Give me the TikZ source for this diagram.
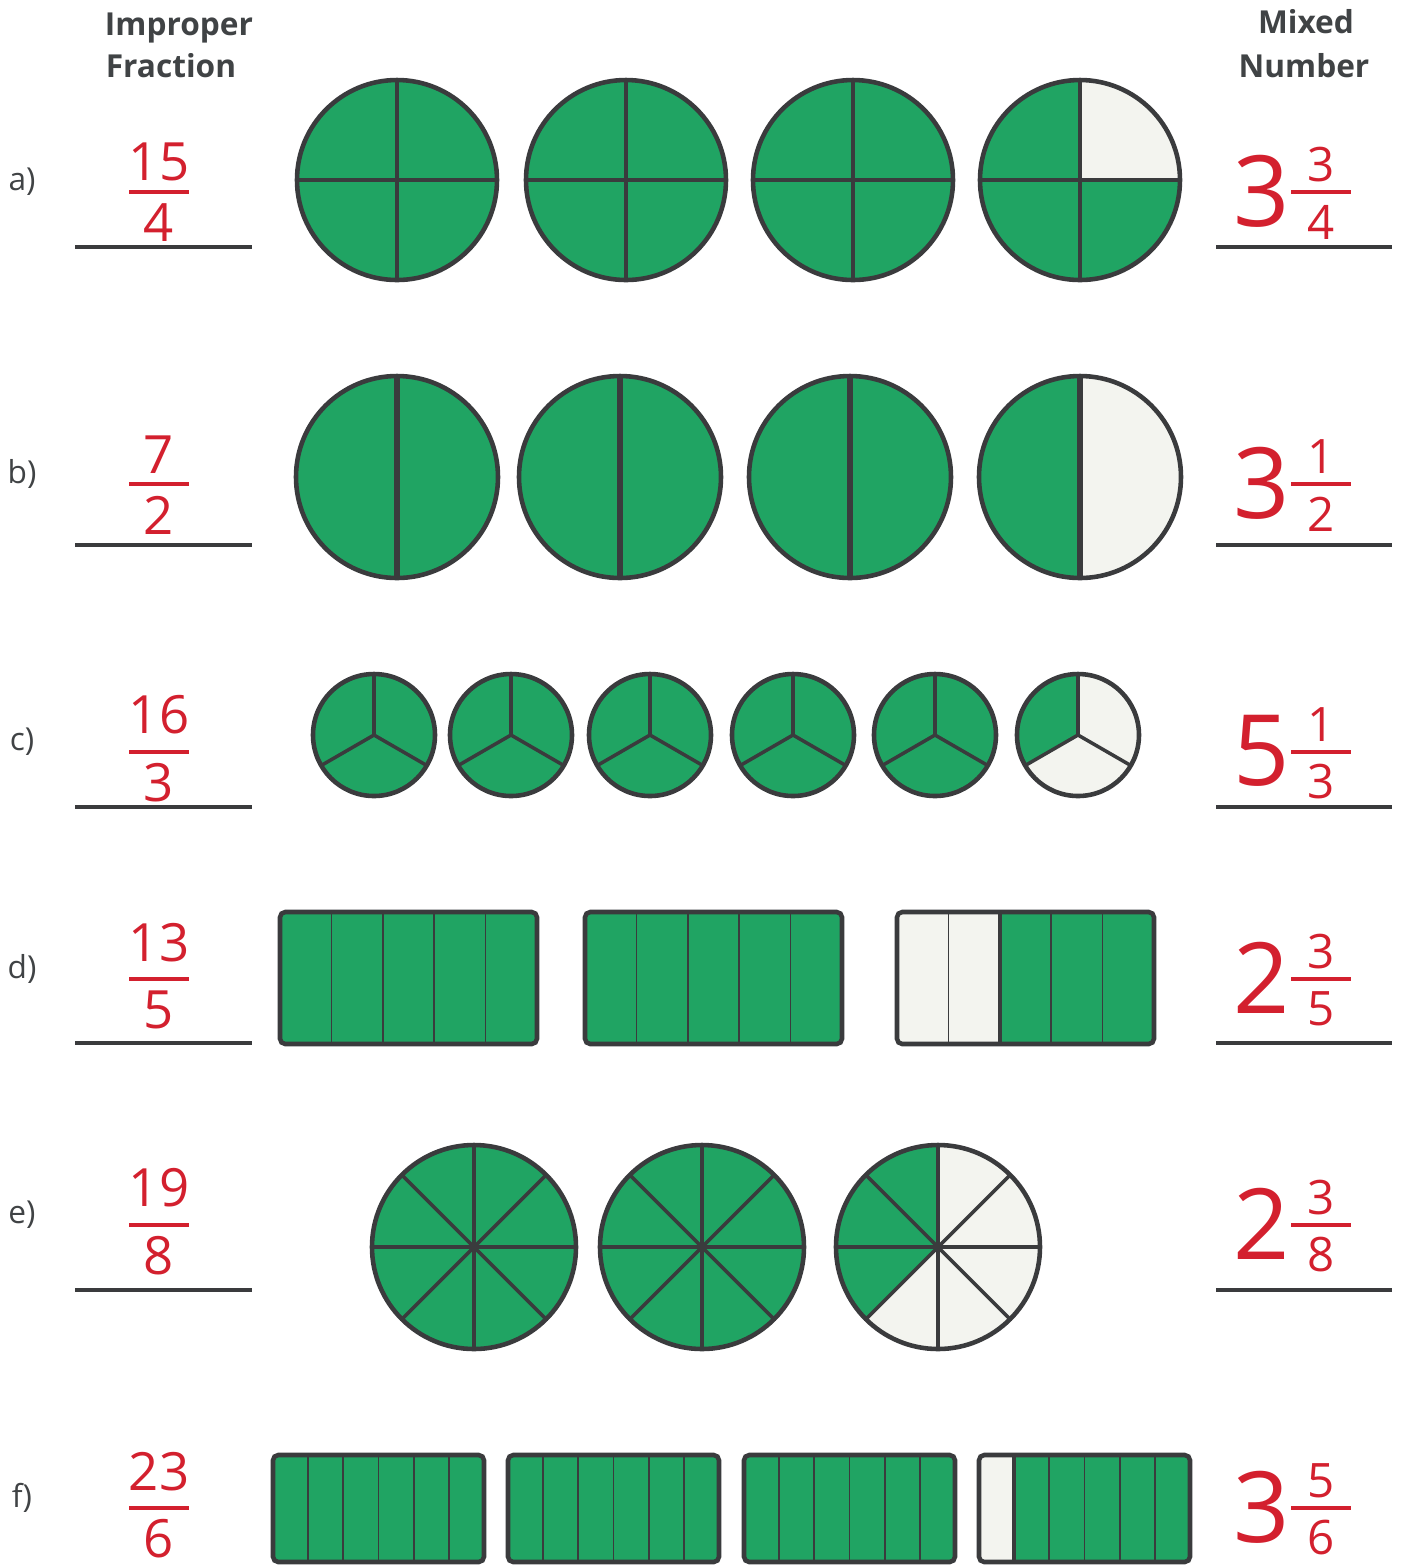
\documentclass[tikz,border=0pt]{standalone}
\usepackage{fontspec}
\setmainfont{Open Sans}
\usetikzlibrary{calc}

\definecolor{piegreen}{HTML}{20A463}
\definecolor{emptyfill}{HTML}{F3F4EF}
\definecolor{edgegray}{HTML}{3A3B3D}
\definecolor{answerred}{HTML}{D3202E}
\definecolor{headgray}{HTML}{404345}

\tikzset{
  rim/.style={draw=edgegray, line width=1.3pt},
  cut/.style={draw=edgegray, line width=1pt},
  slit/.style={draw=edgegray, line width=0.5pt},
  heading/.style={text=headgray, inner sep=0pt, font=\bfseries\fontsize{9}{11}\selectfont},
  rowlabel/.style={text=headgray, inner sep=0pt, font=\fontsize{9}{10}\selectfont},
  leftfig/.style={text=answerred, inner sep=0pt, font=\fontsize{15}{15}\selectfont},
  wholefig/.style={text=answerred, inner sep=0pt, font=\fontsize{28}{28}\selectfont},
  smallfig/.style={text=answerred, inner sep=0pt, font=\fontsize{13.5}{13.5}\selectfont},
  fracbar/.style={draw=answerred, line width=0.9pt},
  answerline/.style={draw=edgegray, line width=0.9pt}
}

% circle cut into #5 parts, #6 of them green (counter-clockwise from the top)
\newcommand{\fracpie}[6]{%
  \coordinate (#1) at (#2,#3);
  \fill[emptyfill] (#1) circle (#4);
  \fill[piegreen] (#1) -- ++(90:#4) arc[start angle=90, delta angle=360*#6/#5, radius=#4] -- cycle;
  \foreach \k in {1,...,#5} \draw[cut] (#1) -- ++({90+360*\k/#5}:#4);
  \draw[rim] (#1) circle (#4);
}

% bar cut into #6 strips, the right #7 of them green
\newcommand{\fracbox}[7]{%
  \coordinate (#1-a) at (#2,#3);
  \coordinate (#1-b) at (#4,#5);
  \pgfmathsetmacro\splitx{#2+(#4-#2)*(#6-#7)/#6}
  \pgfmathtruncatemacro\lastcut{#6-1}
  \fill[emptyfill] (#1-a) rectangle (#1-b);
  \fill[piegreen] (\splitx,#3) rectangle (#1-b);
  \foreach \k in {1,...,\lastcut} \draw[slit] ({#2+(#4-#2)*\k/#6},#3) -- ({#2+(#4-#2)*\k/#6},#5);
  \ifnum#7<#6 \draw[rim] (\splitx,#3) -- (\splitx,#5); \fi
  \draw[rim, rounded corners=1.5pt] (#1-a) rectangle (#1-b);
}

\begin{document}
\begin{tikzpicture}[x=0.01cm, y=0.01cm]
\useasboundingbox (0,0) rectangle (1402,-1565);
\clip (0,0) rectangle (1402,-1565);

% column headings
\node[heading, anchor=base] (head-improper) at (179,-35) {Improper};
\node[heading, anchor=base] (head-fraction) at (171,-77) {Fraction};
\node[heading, anchor=base] (head-mixed) at (1306,-33) {Mixed};
\node[heading, anchor=base] (head-number) at (1304,-77) {Number};

% row labels, improper fractions and mixed numbers
\foreach \tag/\ybar/\dy/\numer/\denom/\whole/\mnumer/\mdenom/\yline in {
    a/192/30/15/4/3/3/4/247, b/484/29/7/2/3/1/2/545, c/752/37/16/3/5/1/3/807,
    d/979/36/13/5/2/3/5/1043, e/1225/37/19/8/2/3/8/1290, f/1508/36/23/6/3/5/6/0}{
  \node[rowlabel] (lab-\tag) at (22,-\ybar+10) {\tag)};
  \node[leftfig] (num-\tag) at (159,-\ybar+\dy) {\numer};
  \draw[fracbar] (129,-\ybar) -- (189,-\ybar);
  \node[leftfig] (den-\tag) at (159,-\ybar-31) {\denom};
  \node[wholefig] (whole-\tag) at (1262,-\ybar+1) {\whole};
  \node[smallfig] (mnum-\tag) at (1321,-\ybar+27) {\mnumer};
  \draw[fracbar] (1291,-\ybar) -- (1351,-\ybar);
  \node[smallfig] (mden-\tag) at (1321,-\ybar-30) {\mdenom};
  \ifnum\yline>0
    \draw[answerline] (75,-\yline) -- (252,-\yline);
    \draw[answerline] (1216,-\yline) -- (1392,-\yline);
  \fi
}

% a) quarters
\foreach \cx/\g in {397/4, 626/4, 853/4, 1080/3}
  \fracpie{pa\cx}{\cx}{-180}{100}{4}{\g};

% b) halves
\begin{scope}[cut/.style={draw=edgegray, line width=1.8pt}]
\foreach \cx/\g in {397/2, 620/2, 850/2, 1080/1}
  \fracpie{pb\cx}{\cx}{-477}{101}{2}{\g};
\end{scope}

% c) thirds
\foreach \cx/\g in {374/3, 511/3, 650/3, 793/3, 935/3, 1078/1}
  \fracpie{pc\cx}{\cx}{-735}{61}{3}{\g};

% d) fifths
\foreach \x/\g in {280/5, 585/5, 897/3}
  \fracbox{bd\x}{\x}{-912}{\x+257}{-1044}{5}{\g};

% e) eighths
\foreach \cx/\g in {474/8, 702/8, 938/3}
  \fracpie{pe\cx}{\cx}{-1247}{102}{8}{\g};

% f) sixths
\foreach \x/\g in {273/6, 508/6, 744/6, 979/5}
  \fracbox{bf\x}{\x}{-1455}{\x+211}{-1562}{6}{\g};
\end{tikzpicture}
\end{document}
